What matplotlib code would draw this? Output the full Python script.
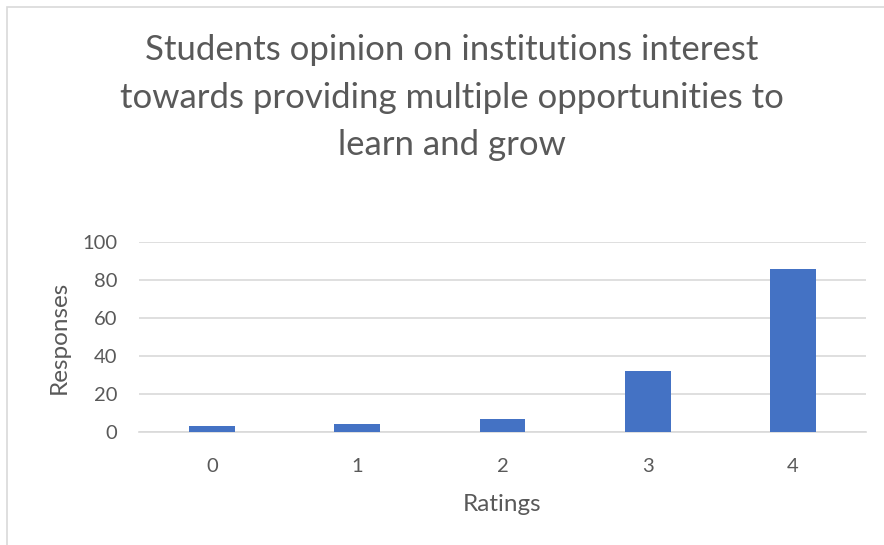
import matplotlib
matplotlib.use("Agg")
import matplotlib.pyplot as plt
from matplotlib.patches import Rectangle

categories = ["0", "1", "2", "3", "4"]
responses = [3, 4, 7, 32, 86]
yticks = [0, 20, 40, 60, 80, 100]
title = "Students opinion on institutions interest\ntowards providing multiple opportunities to\nlearn and grow"

plt.rcParams['font.family'] = ['Lato', 'DejaVu Sans']
W, H = 884, 545
fig = plt.figure(figsize=(W/100, H/100), dpi=100)
ax = fig.add_axes([139.4/W, (H-432)/H, (865.6-139.4)/W, (432-242)/H])

x = list(range(len(categories)))
ax.bar(x, responses, width=0.315, color='#4472c4', zorder=3)
ax.set_xlim(-0.5, len(categories)-0.5)
ax.set_ylim(0, 100)
ax.set_yticks(yticks)
ax.set_xticks(x)
ax.set_xticklabels(categories)
ax.grid(axis='y', color='#d9d9d9', linewidth=1.2, zorder=0)
for s in ['top', 'right', 'left']:
    ax.spines[s].set_visible(False)
ax.spines['bottom'].set_color('#d9d9d9')
ax.spines['bottom'].set_linewidth(1.2)
ax.tick_params(axis='both', length=0, labelsize=14.5, colors='#595959')
ax.tick_params(axis='x', pad=19)
ax.tick_params(axis='y', pad=16)
ax.set_xlabel("Ratings", fontsize=17.5, color='#595959', labelpad=13.5)
ax.set_ylabel("Responses", fontsize=17.5, color='#595959', labelpad=9)

fig.text(452/W, 1-97.5/H, title, ha='center', va='center', fontsize=25,
         color='#595959', linespacing=1.58)

fig.patches.append(Rectangle((6.5/W, -0.1), 1.2, 1.1 - 6.5/H,
                             transform=fig.transFigure, fill=False,
                             edgecolor='#d9d9d9', linewidth=1.2))
fig.savefig("out.png", dpi=100, facecolor='white')
